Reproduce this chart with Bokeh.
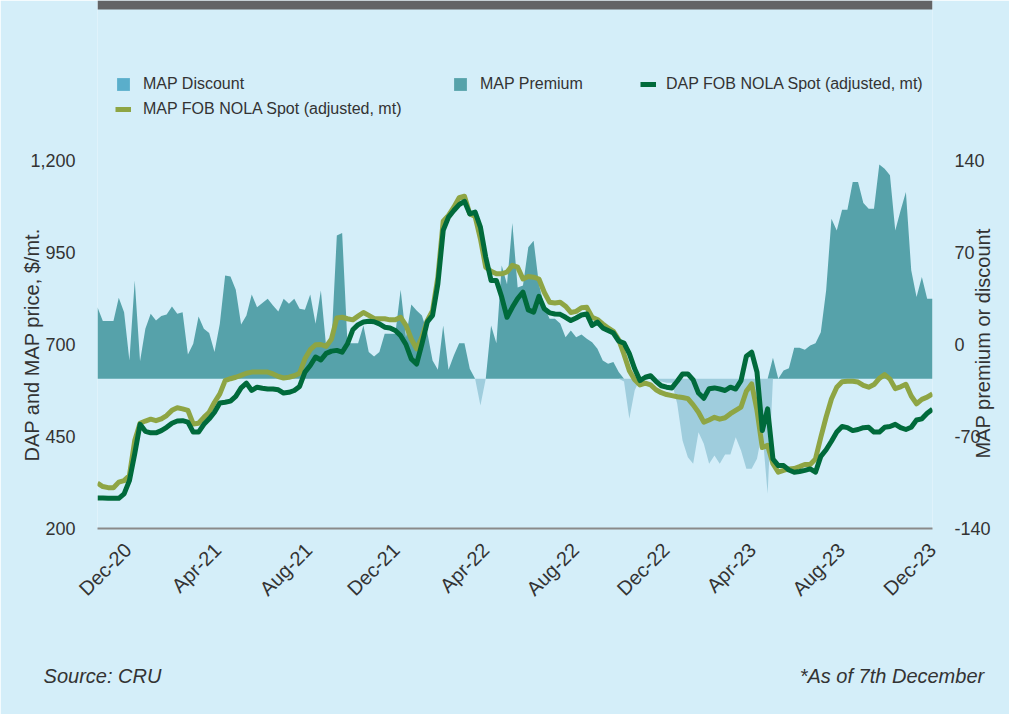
import math
import pandas as pd
from bokeh.plotting import figure
from bokeh.models import (Range1d, LinearAxis, DatetimeAxis, FixedTicker, NumeralTickFormatter,
                          Legend, LegendItem, ColumnDataSource, BoxAnnotation, Title)
from bokeh.embed import file_html
from bokeh.resources import INLINE

# ---------------- data (weekly) ----------------
dates = pd.date_range("2020-12-03", periods=158, freq="7D")

# MAP premium (+) / discount (-), $/mt
spread = [54.5, 43.9, 43.9, 43.9, 61.6, 50.7, 14.0, 74.8, 13.4, 38.1,
          49.5, 44.4, 47.7, 49.0, 55.1, 49.5, 50.7, 18.5, 26.6, 47.4,
          38.1, 34.8, 20.3, 41.9, 78.6, 77.9, 67.7, 41.4, 48.2, 64.2,
          54.5, 57.6, 60.9, 55.8, 51.2, 60.9, 57.1, 60.9, 53.3, 52.5,
          64.2, 41.9, 67.2, 24.1, 27.9, 109.0, 110.9, 27.1, 27.1, 27.1,
          40.6, 20.3, 17.0, 20.3, 34.2, 34.2, 34.2, 67.7, 31.7, 56.6,
          52.0, 48.2, 35.5, 14.0, 6.8, 40.6, 6.8, 17.8, 27.1, 27.1,
          7.6, 0.0, -20.3, 0.0, 40.6, 27.1, 86.3, 72.0, 118.5, 69.5,
          71.0, 100.0, 105.0, 72.0, 55.0, 45.7, 45.7, 42.0, 31.7, 36.8,
          31.7, 33.7, 30.4, 27.9, 22.8, 14.0, 11.4, 12.7, 5.1, -2.0,
          -30.4, -8.9, 0.0, -1.0, 0.0, -1.0, -2.0, -3.0, -3.0, -19.0,
          -47.0, -59.6, -64.7, -40.6, -49.5, -64.7, -58.4, -64.7,
          -57.6, -57.6, -44.4, -54.5, -68.5, -68.5, -60.9, -40.0, -87.5, 16.0,
          0.0, 6.3, 8.0, 23.6, 23.6, 22.1, 25.4, 27.1, 35.5, 67.2,
          121.8, 112.9, 128.6, 128.6, 149.7, 149.7, 133.7, 129.4, 129.4, 163.1,
          159.8, 154.8, 112.9, 128.1, 142.1, 82.5, 62.2, 77.4, 60.9, 60.9]

# DAP FOB NOLA spot, $/mt
dap = [283, 283, 282, 282, 282, 294, 330, 403, 483, 464,
       460, 460, 466, 475, 486, 492, 493, 489, 462, 462,
       483, 498, 516, 541, 543, 546, 559, 582, 595, 575,
       584, 581, 579, 579, 577, 568, 570, 575, 586, 625,
       643, 666, 658, 676, 682, 684, 679, 702, 740, 754,
       761, 763, 762, 756, 747, 745, 738, 724, 700, 661,
       647, 702, 761, 779, 865, 1010, 1046, 1064, 1080, 1089,
       1055, 1060, 1019, 937, 874, 874, 829, 774, 801, 825,
       842, 794, 788, 831, 797, 786, 783, 782, 774, 765,
       772, 780, 783, 752, 761, 745, 738, 731, 709, 704,
       675, 634, 602, 611, 615, 600, 588, 584, 582, 600,
       620, 620, 604, 568, 554, 580, 582, 579, 575,
       584, 579, 602, 668, 679, 625, 466, 525, 389, 371,
       371, 359, 353, 355, 358, 362, 353, 396, 414, 437,
       462, 477, 474, 466, 469, 474, 475, 462, 462, 475,
       477, 483, 474, 469, 475, 495, 498, 513, 524]

# MAP FOB NOLA spot, $/mt
map_fob = [323, 314, 311, 311, 326, 330, 344, 439, 486, 492,
           497, 493, 498, 507, 521, 528, 525, 521, 484, 486,
           502, 516, 543, 566, 602, 607, 611, 616, 622, 625,
           625, 625, 625, 620, 613, 609, 611, 615, 622, 661,
           686, 699, 700, 695, 715, 772, 774, 770, 767, 777,
           787, 779, 771, 770, 770, 767, 767, 774, 752, 715,
           688, 720, 765, 792, 883, 1035, 1051, 1073, 1099, 1103,
           1055, 1048, 987, 910, 899, 892, 892, 897, 915, 910,
           878, 885, 883, 878, 842, 815, 813, 815, 804, 787,
           790, 800, 801, 774, 768, 756, 745, 736, 713, 673,
           629, 604, 590, 595, 590, 577, 569, 564, 561, 558,
           556, 553, 536, 516, 489, 495, 502, 497, 501,
           512, 521, 530, 573, 593, 521, 420, 426, 376, 353,
           358, 362, 363, 368, 374, 374, 389, 448, 503, 552,
           584, 599, 600, 600, 598, 589, 584, 591, 608, 618,
           606, 580, 585, 592, 560, 539, 551, 557, 566]

tick_labels = ["Dec-20", "Apr-21", "Aug-21", "Dec-21", "Apr-22",
               "Aug-22", "Dec-22", "Apr-23", "Aug-23", "Dec-23"]
tick_dates = ["2021-01-12", "2021-05-10", "2021-09-07", "2021-12-31", "2022-04-28",
              "2022-08-24", "2022-12-21", "2023-04-14", "2023-08-09", "2023-12-07"]
left_ticks = [200, 450, 700, 950, 1200]
right_ticks = [-140, -70, 0, 70, 140]

legend_labels = ["MAP Discount", "MAP Premium",
                 "DAP FOB NOLA Spot (adjusted, mt)", "MAP FOB NOLA Spot (adjusted, mt)"]
left_title = "DAP and MAP price, $/mt."
right_title = "MAP premium or discount"
footer_texts = ["Source: CRU", "*As of 7th December"]

# ---------------- layout / styling ----------------
BG = "#d4eef9"
FONT = "Liberation Sans"
TXT = "#333333"
C_PREM = "#56a2aa"
C_DISC = "#9fcddd"
C_DISC_KEY = "#5aaecb"
C_DAP = "#006a3b"
C_MAP = "#8ea544"
W, H = 1009, 714
PLOT_TOP, PLOT_BOTTOM = 160, 528          # pixel rows of the 1,200 and 200 levels
FRAME_H = PLOT_BOTTOM                      # frame runs from the canvas top to the axis
LEFT_SPAN = 1000.0 * FRAME_H / (PLOT_BOTTOM - PLOT_TOP)
RIGHT_SPAN = 280.0 * FRAME_H / (PLOT_BOTTOM - PLOT_TOP)
SPREAD_ZERO_SHIFT = 26.1                   # premium baseline sits below the right-axis zero
RIGHT_TITLE_START = -86.7                  # right-axis level where its title begins
footer_pos = [dates[0] + pd.Timedelta(days=6.6), dates[0] + pd.Timedelta(days=1045.6)]

src = ColumnDataSource(dict(
    date=dates,
    prem=[max(v, 0) for v in spread],
    disc=[min(v, 0) for v in spread],
    zero=[0] * len(spread),
    dap=dap,
    mapv=map_fob,
))

p = figure(width=W, height=H, x_axis_type="datetime",
           x_range=Range1d(dates[0], dates[-1]), y_range=Range1d(200, 200 + LEFT_SPAN),
           output_backend="svg", toolbar_location=None,
           min_border_left=97, min_border_right=77, min_border_top=0,
           min_border_bottom=H - PLOT_BOTTOM,
           background_fill_color=BG, border_fill_color=BG, outline_line_color=None)
p.extra_y_ranges = {
    "right": Range1d(-140, -140 + RIGHT_SPAN),
    "spread": Range1d(-140 + SPREAD_ZERO_SHIFT, -140 + SPREAD_ZERO_SHIFT + RIGHT_SPAN),
}
p.xgrid.visible = False
p.ygrid.visible = False

# header bar
p.add_layout(BoxAnnotation(bottom=200 + LEFT_SPAN - 9 * LEFT_SPAN / FRAME_H,
                           fill_color="#636466", fill_alpha=1, line_color=None))

tick_ms = [int(pd.Timestamp(d).value // 10**6) for d in tick_dates]
xa = p.xaxis[0]
xa.ticker = FixedTicker(ticks=tick_ms)
xa.major_label_overrides = dict(zip(tick_ms, tick_labels))
xa.major_label_orientation = math.pi / 4
xa.major_tick_line_color = None
xa.minor_tick_line_color = None
xa.axis_line_color = "#8a8a8a"
xa.axis_line_width = 2
xa.major_label_text_font = FONT
xa.major_label_text_font_size = "20px"
xa.major_label_text_color = TXT
xa.major_label_standoff = 12

# footer texts, carried by a second (line-less) date axis below the first
foot_ms = [int(pd.Timestamp(d).value // 10**6) for d in footer_pos]
fa = DatetimeAxis(ticker=FixedTicker(ticks=foot_ms),
                  major_label_overrides=dict(zip(foot_ms, footer_texts)),
                  axis_line_color=None, major_tick_line_color=None, minor_tick_line_color=None,
                  major_label_standoff=48, major_label_text_font=FONT,
                  major_label_text_font_style="italic", major_label_text_font_size="20px",
                  major_label_text_color=TXT)
p.add_layout(fa, "below")

ya = p.yaxis[0]
ya.ticker = FixedTicker(ticks=left_ticks)
ya.formatter = NumeralTickFormatter(format="0,0")
ya.axis_line_color = None
ya.major_tick_line_color = None
ya.minor_tick_line_color = None
ya.major_label_standoff = 16
ya.major_label_text_font = FONT
ya.major_label_text_font_size = "18px"
ya.major_label_text_color = TXT

ra = LinearAxis(y_range_name="right", ticker=FixedTicker(ticks=right_ticks),
                formatter=NumeralTickFormatter(format="0"),
                axis_line_color=None, major_tick_line_color=None, minor_tick_line_color=None,
                major_label_standoff=16, major_label_text_font=FONT,
                major_label_text_font_size="18px", major_label_text_color=TXT)
p.add_layout(ra, "right")

# right-axis title: a single rotated label (reads bottom-to-top) on a line-less axis
rt = LinearAxis(y_range_name="right", ticker=FixedTicker(ticks=[RIGHT_TITLE_START]),
                major_label_overrides={RIGHT_TITLE_START: right_title},
                major_label_orientation=math.pi / 2,
                axis_line_color=None, major_tick_line_color=None, minor_tick_line_color=None,
                major_label_standoff=-16, major_label_text_font=FONT,
                major_label_text_font_size="20px", major_label_text_color=TXT)
p.add_layout(rt, "right")

# left-axis title (a Title so it can be placed on the plotted span, not the whole frame)
p.add_layout(Title(text=left_title, align="left", offset=67, standoff=-30,
                   text_font=FONT, text_font_style="normal", text_font_size="20px",
                   text_color=TXT), "left")

r_prem = p.varea(x="date", y1="zero", y2="prem", source=src, y_range_name="spread",
                 fill_color=C_PREM)
p.varea(x="date", y1="disc", y2="zero", source=src, y_range_name="spread", fill_color=C_DISC)
r_map = p.line(x="date", y="mapv", source=src, line_color=C_MAP, line_width=5,
               line_join="round")
r_dap = p.line(x="date", y="dap", source=src, line_color=C_DAP, line_width=5,
               line_join="round")
# legend key for the discount swatch (zero-area, invisible in the plot)
k_disc = p.varea(x=[dates[0]], y1=[0], y2=[0], y_range_name="spread", fill_color=C_DISC_KEY)


def add_legend(label, rend, x, y, standoff=12):
    lg = Legend(items=[LegendItem(label=label, renderers=[rend])], location=(x, y),
                orientation="horizontal", glyph_width=16, glyph_height=16,
                label_height=16, label_width=0, label_standoff=standoff,
                padding=0, margin=0, spacing=0, border_line_color=None,
                background_fill_alpha=0, label_text_font=FONT,
                label_text_font_size="16px", label_text_color=TXT)
    p.add_layout(lg)


add_legend(legend_labels[0], k_disc, 18, 435)
add_legend(legend_labels[1], r_prem, 355, 435)
add_legend(legend_labels[2], r_dap, 543, 435, standoff=10)
add_legend(legend_labels[3], r_map, 18, 410)

open("out.html", "w").write(file_html(p, INLINE))
